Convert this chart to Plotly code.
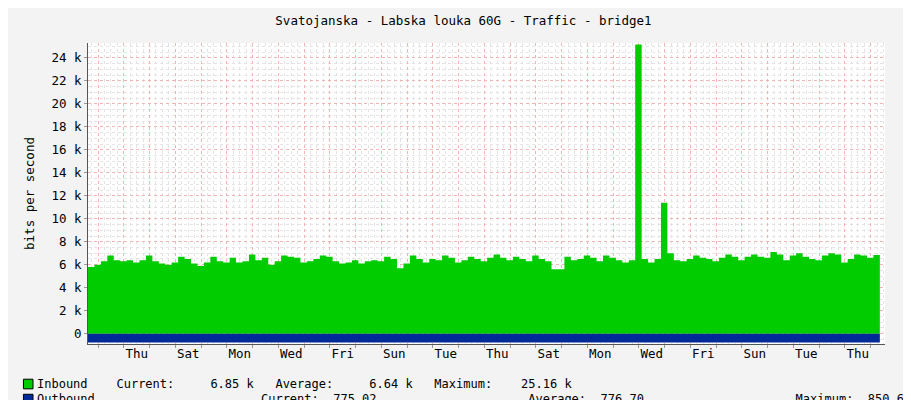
import plotly.graph_objects as go

# time in days from left edge of graph, one sample every 6 hours
step = 0.25
inbound = [5.8, 6.0, 6.3, 6.8, 6.4, 6.3, 6.4, 6.2, 6.4, 6.8, 6.3, 6.1, 6.0, 6.2, 6.7, 6.5,
           6.1, 5.9, 6.2, 6.7, 6.3, 6.2, 6.6, 6.2, 6.3, 6.9, 6.4, 6.6, 6.0, 6.3, 6.8, 6.7,
           6.6, 6.2, 6.3, 6.5, 6.8, 6.7, 6.3, 6.1, 6.2, 6.4, 6.1, 6.3, 6.4, 6.3, 6.7, 6.5,
           5.7, 6.1, 6.8, 6.5, 6.2, 6.5, 6.4, 6.8, 6.6, 6.2, 6.4, 6.7, 6.5, 6.3, 6.6, 6.9,
           6.6, 6.4, 6.7, 6.5, 6.3, 6.8, 6.5, 6.3, 5.6, 5.6, 6.7, 6.4, 6.5, 6.8, 6.6, 6.3,
           6.8, 6.6, 6.4, 6.2, 6.4, 25.16, 6.5, 6.2, 6.5, 11.4, 7.0, 6.4, 6.3, 6.5, 6.8, 6.6,
           6.5, 6.3, 6.6, 6.9, 6.7, 6.4, 6.7, 6.9, 6.7, 6.6, 7.1, 6.9, 6.4, 6.8, 7.0, 6.7,
           6.5, 6.4, 6.8, 7.0, 6.9, 6.2, 6.5, 6.9, 6.8, 6.6, 6.85]
outbound = [0.776] * len(inbound)
t = [i * step for i in range(len(inbound))]
t_end = len(inbound) * step

first_midnight = 0.39
day_names = ["Thu", "Sat", "Mon", "Wed", "Fri", "Sun", "Tue", "Thu",
             "Sat", "Mon", "Wed", "Fri", "Sun", "Tue", "Thu"]
label_pos = [first_midnight + 1.5 + 2 * i for i in range(len(day_names))]

y_ticks = list(range(0, 25, 2))
y_text = ["0"] + ["%d k" % v for v in y_ticks[1:]]

fig = go.Figure()
fig.add_trace(go.Scatter(x=t + [t_end], y=[v * 1000 for v in inbound] + [inbound[-1] * 1000],
                         mode="lines", line=dict(width=0, shape="hv"), fill="tozeroy",
                         fillcolor="#00cc00", hoverinfo="skip"))
fig.add_trace(go.Scatter(x=t + [t_end], y=[-v * 1000 for v in outbound] + [-outbound[-1] * 1000],
                         mode="lines", line=dict(width=0, shape="hv"), fill="tozeroy",
                         fillcolor="#002a97", hoverinfo="skip"))
# invisible trace to carry the label axis
fig.add_trace(go.Scatter(x=[0, t_end], y=[0, 0], xaxis="x2", mode="lines",
                         line=dict(width=0), hoverinfo="skip"))

mono = "DejaVu Sans Mono"
fig.update_layout(
    width=911, height=400, showlegend=False,
    paper_bgcolor="#f3f3f3", plot_bgcolor="white",
    margin=dict(l=80, r=34, t=35, b=64, autoexpand=False),
    font=dict(family=mono, size=11, color="#000"),
    title=dict(text="Svatojanska - Labska louka 60G - Traffic - bridge1", x=0.5, y=0.98,
               yanchor="top", font=dict(family=mono, size=12.5)),
    xaxis=dict(range=[0, t_end + 0.2], tick0=first_midnight, dtick=1, showticklabels=False,
               showgrid=True, gridcolor="#f4b4b4", griddash="dot", gridwidth=1, zeroline=False,
               ticks="outside", ticklen=3, tickcolor="#999",
               minor=dict(dtick=0.25, tick0=first_midnight, showgrid=True, gridcolor="#e4e4e4",
                          griddash="dot"),
               showline=True, linecolor="#555", layer="below traces"),
    xaxis2=dict(range=[0, t_end + 0.2], overlaying="x", tickvals=label_pos, ticktext=day_names,
                showgrid=False, zeroline=False, side="bottom", ticks="", showline=False,
                tickfont=dict(family=mono, size=12.5)),
    yaxis=dict(range=[-900, 25300], tickvals=[v * 1000 for v in y_ticks], ticktext=y_text,
               showgrid=True, gridcolor="#f4b4b4", griddash="dot", zeroline=False,
               ticks="outside", ticklen=3, tickcolor="#999", tickfont=dict(family=mono, size=12.5),
               minor=dict(dtick=500, showgrid=True, gridcolor="#e4e4e4", griddash="dot"),
               title=dict(text="bits per second", font=dict(family=mono, size=12.5), standoff=14),
               showline=True, linecolor="#555", layer="below traces"),
)

legend_rows = [
    ("#00cc00", "Inbound    Current:     6.85 k   Average:     6.64 k   Maximum:    25.16 k"),
    ("#002a97", "Outbound" + " " * 23 + "Current:  775.02" + " " * 21 + "Average:  776.70"
     + " " * 21 + "Maximum:  850.67"),
]
for i, (col, txt) in enumerate(legend_rows):
    yy = -0.133 - i * 0.05
    fig.add_shape(type="rect", xref="paper", yref="paper", x0=-0.081, x1=-0.069,
                  y0=yy - 0.016, y1=yy + 0.016, fillcolor=col, line=dict(color="#000", width=1))
    fig.add_annotation(xref="paper", yref="paper", x=-0.066, y=yy, text=txt, showarrow=False,
                       xanchor="left", yanchor="middle", font=dict(family=mono, size=12))
fig.add_annotation(xref="paper", yref="paper", x=1.033, y=1.08, text="RRDTOOL / TOBI OETIKER",
                   textangle=90, showarrow=False, xanchor="center", yanchor="top",
                   font=dict(family=mono, size=8, color="#aaa"))

fig.write_html("out.html")
